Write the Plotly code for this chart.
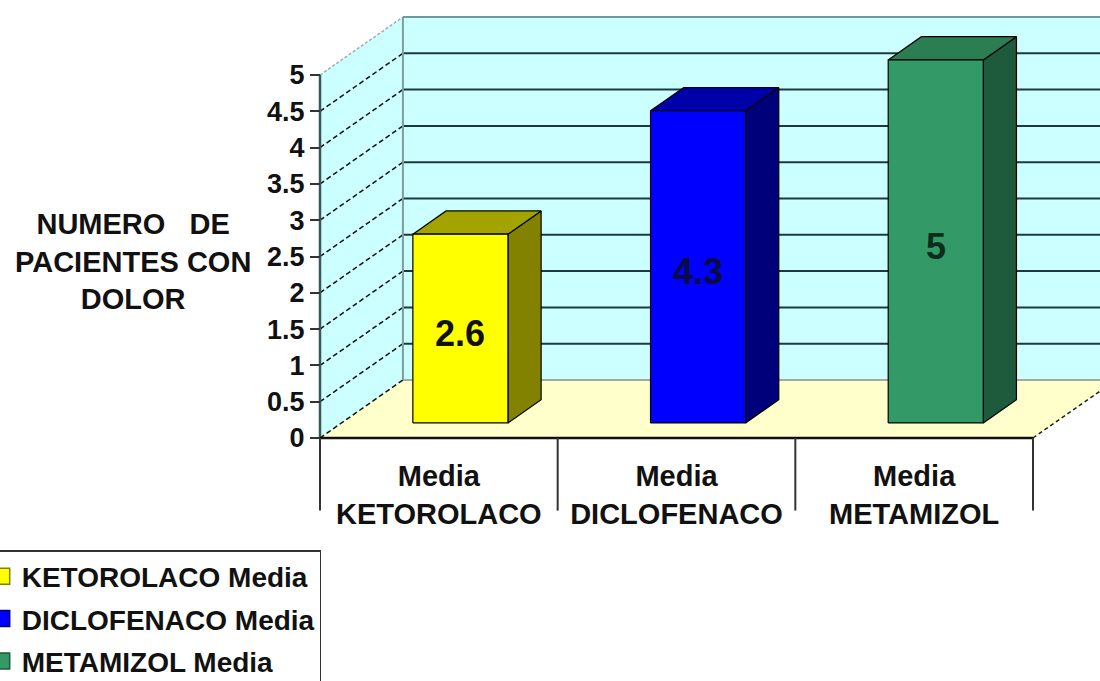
import plotly.graph_objects as go

# ---- data -------------------------------------------------------------
drugs = ["KETOROLACO", "DICLOFENACO", "METAMIZOL"]
means = [2.6, 4.3, 5.0]
value_ticks = [0, 0.5, 1, 1.5, 2, 2.5, 3, 3.5, 4, 4.5, 5]
value_tick_text = ["0", "0.5", "1", "1.5", "2", "2.5", "3", "3.5", "4", "4.5", "5"]
y_title_lines = ["NUMERO\u00a0\u00a0\u00a0DE", "PACIENTES CON", "DOLOR"]

# ---- styling ----------------------------------------------------------
front_colors = ["#FFFF00", "#0000FF", "#339966"]
top_colors = ["#A3A300", "#0000A8", "#2B7D52"]
side_colors = ["#828200", "#00007A", "#1E5A3C"]
label_colors = ["#111100", "#0A0A44", "#0C2C1C"]
WALL = "#CCFFFF"
FLOOR = "#FFFFCC"
FONT = "Liberation Sans"

W, H = 1100, 681
X_RANGE = [-1.3464, 3.2819]     # one category slot ~ 237.7 px
Y_RANGE = [-3.347, 6.033]       # one value unit ~ 72.6 px
DEPTH_X, DEPTH_Y = 0.349, 0.799  # oblique offset of the back wall
N = len(drugs)
V_MAX = value_ticks[-1]
BAR_W = 0.40
F0, F1 = 0.26, 0.66              # depth span occupied by the bars


def P(x, v, f):
    """Front-plane category x / value v pushed back by depth fraction f."""
    return (x + f * DEPTH_X, v + f * DEPTH_Y)


def poly(pts, fill, line_color="#000000", lw=1.2):
    xs = [p[0] for p in pts] + [pts[0][0]]
    ys = [p[1] for p in pts] + [pts[0][1]]
    return go.Scatter(x=xs, y=ys, mode="lines", fill="toself", fillcolor=fill,
                      line=dict(color=line_color, width=lw),
                      hoverinfo="skip", showlegend=False)


def seg(a, b, color, width, dash="solid"):
    return go.Scatter(x=[a[0], b[0]], y=[a[1], b[1]], mode="lines",
                      line=dict(color=color, width=width, dash=dash),
                      hoverinfo="skip", showlegend=False)


fig = go.Figure()

# walls and floor
fig.add_trace(poly([P(0, 0, 1), P(N, 0, 1), P(N, V_MAX, 1), P(0, V_MAX, 1)], WALL, WALL, 0))
fig.add_trace(poly([P(0, 0, 0), P(0, 0, 1), P(0, V_MAX, 1), P(0, V_MAX, 0)], WALL, WALL, 0))
fig.add_trace(poly([P(0, 0, 0), P(N, 0, 0), P(N, 0, 1), P(0, 0, 1)], FLOOR, FLOOR, 0))

# back-wall gridlines and left-wall guides
for v in value_ticks:
    if v == 0:
        fig.add_trace(seg(P(0, v, 1), P(N, v, 1), "#A8A8A0", 2))
    elif v == V_MAX:
        fig.add_trace(seg(P(0, v, 1), P(N, v, 1), "#6E9A9A", 2))
    else:
        fig.add_trace(seg(P(0, v, 1), P(N, v, 1), "#1C3A3C", 2))
    if v == V_MAX:
        fig.add_trace(seg(P(0, v, 0), P(0, v, 1), "#9AB0B0", 1.5, "3px,2px"))
    else:
        fig.add_trace(seg(P(0, v, 0), P(0, v, 1), "#101010", 1.5, "5px,3px"))

# back-left corner edge
fig.add_trace(seg(P(0, 0, 1), P(0, V_MAX, 1), "#7C9E9E", 2))
# right edge of floor
fig.add_trace(seg(P(N, 0, 0), P(N, 0, 1), "#202020", 1.5, "4px,3px"))

# 3-D bars
for i, (v, fc, tc, sc) in enumerate(zip(means, front_colors, top_colors, side_colors)):
    c = i + 0.5
    xl, xr = c - BAR_W / 2, c + BAR_W / 2
    fig.add_trace(poly([P(xr, 0, F0), P(xr, 0, F1), P(xr, v, F1), P(xr, v, F0)], sc))
    fig.add_trace(poly([P(xl, v, F0), P(xr, v, F0), P(xr, v, F1), P(xl, v, F1)], tc))
    fig.add_trace(poly([P(xl, 0, F0), P(xr, 0, F0), P(xr, v, F0), P(xl, v, F0)], fc))

# value axis line, category axis line and category separators
fig.add_trace(seg((0, 0), (0, V_MAX), "#3A5656", 2.5))
fig.add_trace(seg((0, 0), (N, 0), "#111111", 2.5))
for k in range(N + 1):
    fig.add_trace(seg((k, 0), (k, -1.0), "#333333", 2))

# legend entries
for name, fc, sc in zip(drugs, front_colors, side_colors):
    fig.add_trace(go.Scatter(x=[None], y=[None], mode="markers", name=f"{name} Media",
                             legendgroup=name,
                             marker=dict(symbol="square", size=16, color=fc,
                                         line=dict(color=sc, width=1.5))))

# value labels on bar faces
annotations = []
for i, (v, lc) in enumerate(zip(means, label_colors)):
    x, y = P(i + 0.5, v / 2, F0)
    annotations.append(dict(x=x, y=y, xref="x", yref="y", text=f"{v:g}",
                            showarrow=False, yshift=-5,
                            font=dict(family=FONT, size=36, color=lc, weight="bold")))

annotations.append(dict(x=133 / W, y=1 - 261 / H, xref="paper", yref="paper",
                        text="<br>".join(y_title_lines), showarrow=False,
                        align="center", xanchor="center", yanchor="middle",
                        font=dict(family=FONT, size=29, color="#111111", weight="bold")))

fig.update_layout(
    width=W, height=H, autosize=False,
    margin=dict(l=0, r=0, t=0, b=0, autoexpand=False),
    paper_bgcolor="#FFFFFF", plot_bgcolor="#FFFFFF",
    annotations=annotations,
    showlegend=True,
    legend=dict(x=-0.018, xanchor="left", y=1 - 550 / H, yanchor="top",
                bgcolor="#FFFFFF", bordercolor="#333333", borderwidth=1.5,
                tracegroupgap=3, traceorder="grouped",
                font=dict(family=FONT, size=28, color="#111111", weight="bold")),
    xaxis=dict(range=X_RANGE, domain=[0, 1], anchor="free", position=1 - 438 / H,
               showgrid=False, zeroline=False, showline=False, ticks="",
               tickvals=[i + 0.5 for i in range(N)],
               ticktext=[f"Media<br>{d}" for d in drugs],
               ticklabelstandoff=18,
               tickfont=dict(family=FONT, size=29, color="#111111", weight="bold")),
    yaxis=dict(range=Y_RANGE, domain=[0, 1], anchor="free", position=320 / W,
               showgrid=False, zeroline=False, showline=False,
               ticks="outside", ticklen=10, tickwidth=2, tickcolor="#333333",
               tickvals=value_ticks, ticktext=value_tick_text,
               tickfont=dict(family=FONT, size=27, color="#111111", weight="bold")),
)

fig.write_html("out.html")
